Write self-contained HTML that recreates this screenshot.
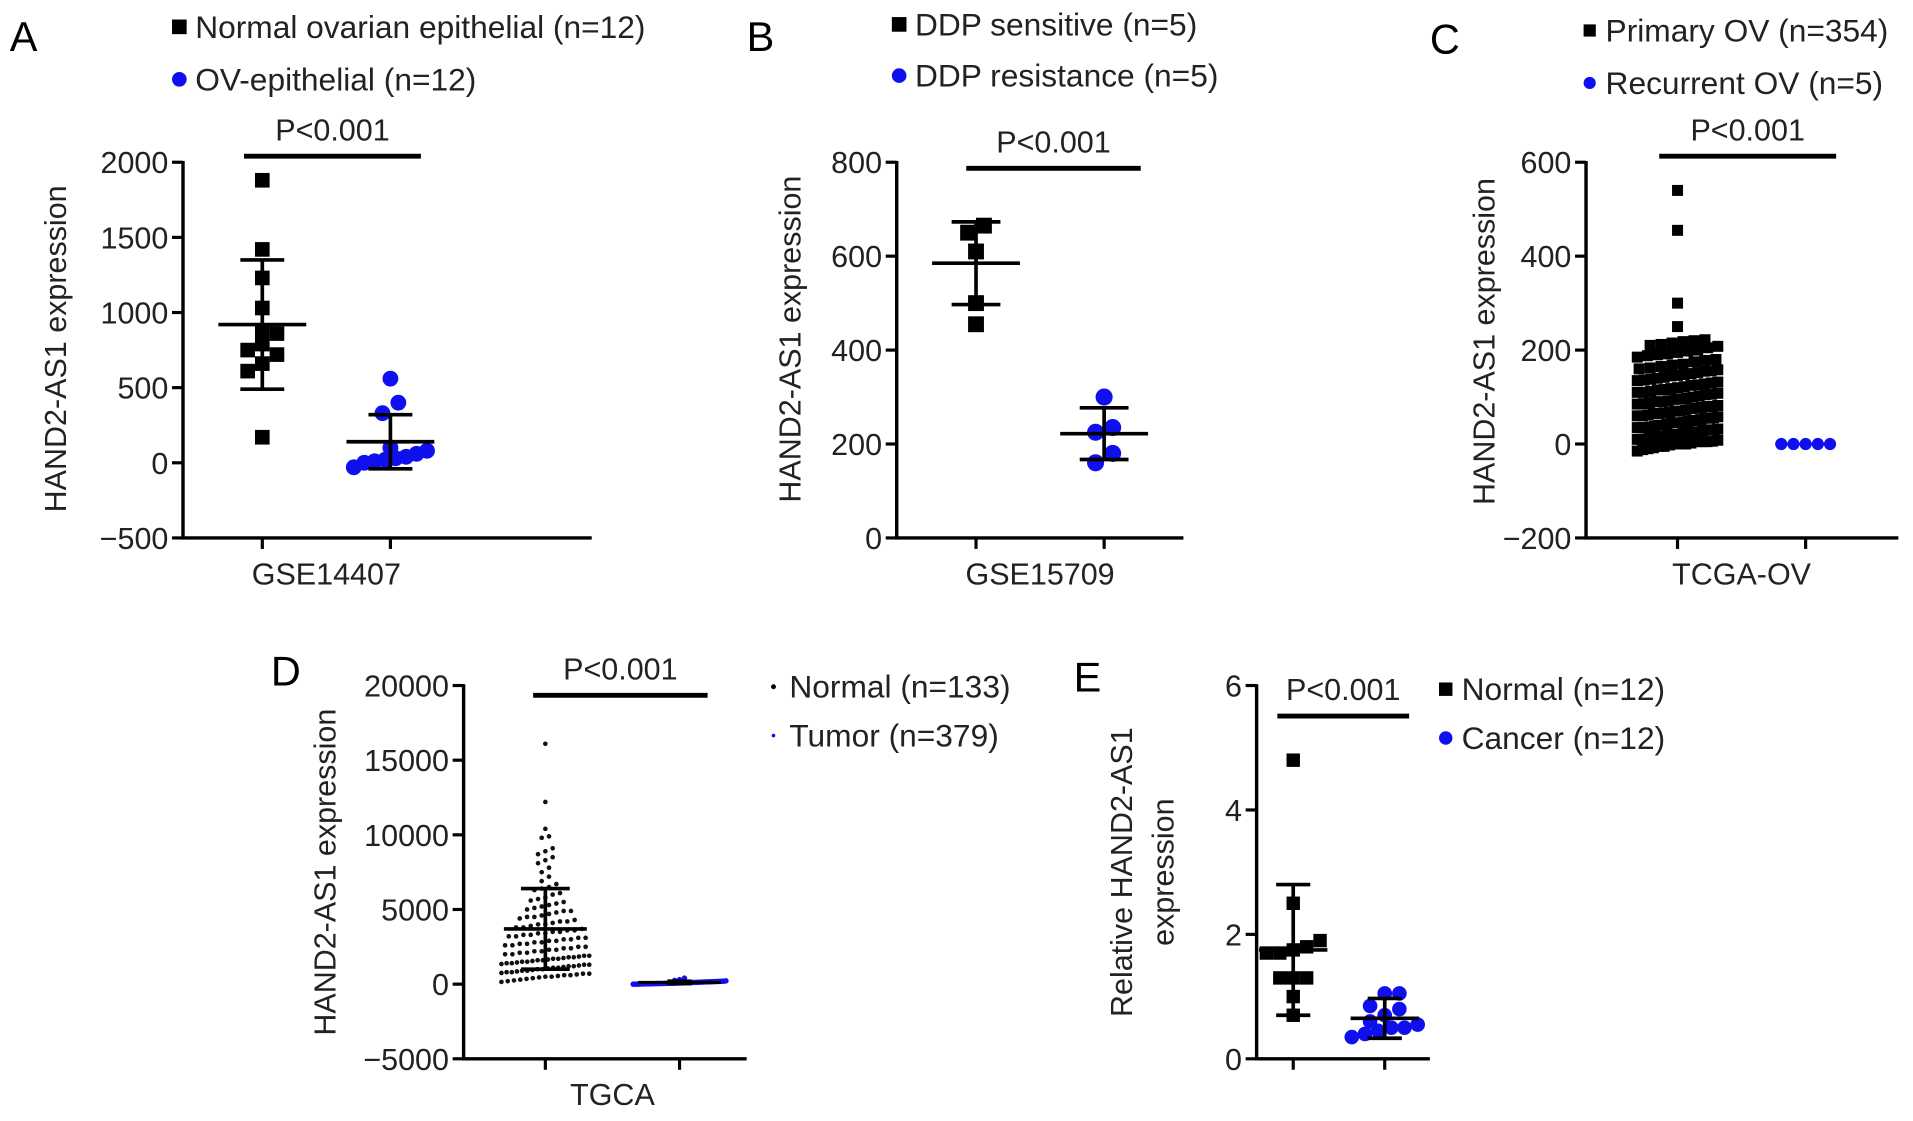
<!DOCTYPE html>
<html><head><meta charset="utf-8"><style>
html,body{margin:0;padding:0;background:#fff;}
svg{display:block;font-family:"Liberation Sans",Arial,sans-serif;}
</style></head><body>
<svg id="fig" width="1913" height="1121" viewBox="0 0 1568 919" preserveAspectRatio="none" xmlns="http://www.w3.org/2000/svg"></svg>
<script>
// ---- Data arrays ----
const aNormal = [1880,1420,1230,1030,880,860,790,750,720,660,610,170];
const aOV = [560,400,330,100,80,60,40,30,20,10,0,-30];
const aMean = [920,140];
const aSD = [430,180];
const aTicks = [2000,1500,1000,500,0,-500];

const bSens = [665,650,610,500,455];
const bRes = [300,235,225,180,160];
const bMean = [585,222];
const bSD = [88,55];
const bTicks = [800,600,400,200,0];

const cPrimary = [540,455,300,250,222,220,218,215,212,210,208,205,200,198,195,192,190,188,185,180,178,175,170,168,165,162,160,158,156,155,152,150,148,146,145,142,140,138,136,135,132,130,128,126,125,122,120,118,116,115,112,110,108,106,105,102,100,98,96,95,92,90,88,86,85,82,80,78,76,75,72,70,68,66,65,62,60,58,56,55,52,50,48,46,45,42,40,38,36,35,32,30,28,26,25,22,20,18,16,15,12,10,8,6,5,2,0,-2,-5,-8,-10,-15,60,55,50,45,40,35,30,25,20,15,10,5,0,70,65,45,35,25,15,5,-5,-12,110,90,80,30,20,10,0];
const cRecurrent = [0,0,0,0,0];
const cMean = [90,0];
const cSD = [80,0];
const cTicks = [600,400,200,0,-200];

const dNormal = [16100,12200,10400,9900,9800,9100,8900,8700,8500,8300,8100,7800,7500,7200,6900,6700,6500,6400,6300,6100,6000,5800,5700,5600,5500,5400,5300,5200,5100,5000,4900,4900,4800,4700,4600,4500,4500,4400,4300,4200,4200,4100,4000,4000,3900,3800,3800,3700,3600,3600,3500,3500,3400,3400,3300,3300,3200,3200,3100,3100,3000,3000,2900,2900,2800,2800,2700,2700,2600,2600,2500,2500,2400,2400,2300,2300,2200,2200,2100,2100,2000,2000,1900,1900,1850,1800,1800,1750,1700,1700,1650,1600,1600,1550,1500,1500,1450,1400,1400,1350,1300,1300,1250,1200,1200,1150,1100,1100,1050,1000,1000,950,900,900,850,800,800,750,700,700,650,600,600,550,500,500,450,400,350,300,250,200,150];
const dTumor = [400,300,250,220,200,190,180,170,160,150,150,140,130,120,110,100,100,90,80,80,70,60,60,50,50,40,40,30,30,20,20,10,10,0,0,0,5,15,25,35,45,55,65,75,85,95,105,115,125,135,145,155,165,175,185,195,60,40,20,0];
const dMean = [3700,120];
const dSD = [2700,100];
const dTicks = [20000,15000,10000,5000,0,-5000];

const eNormal = [4.8,2.5,1.9,1.8,1.75,1.7,1.7,1.3,1.3,1.3,1.0,0.7];
const eCancer = [1.05,1.05,0.85,0.8,0.7,0.6,0.55,0.5,0.5,0.45,0.4,0.35];
const eMean = [1.75,0.65];
const eSD = [1.05,0.32];
const eTicks = [6,4,2,0];

// ---- helpers ----
const NS = "http://www.w3.org/2000/svg";
const svg = document.getElementById('fig');
function mk(tag, attrs, parent, text){
  const e = document.createElementNS(NS, tag);
  for (const k in attrs) e.setAttribute(k, attrs[k]);
  if (text !== undefined) e.textContent = text;
  (parent||svg).appendChild(e);
  return e;
}
function swarm(vals, cx, sc, binH, spacing, maxHalf){
  const pts = vals.map(v=>({v, y:sc(v)})).sort((a,b)=>b.y-a.y);
  const out=[]; let bin=[]; let by=null;
  function flush(){
    const n=bin.length; if(!n) return;
    const sp = n>1 ? Math.min(spacing, 2*maxHalf/(n-1)) : 0;
    bin.forEach((p,i)=>out.push({x:cx+(i-(n-1)/2)*sp, y:p.y, v:p.v}));
    bin=[];
  }
  pts.forEach(p=>{ if(by===null || Math.abs(p.y-by)>=binH){ flush(); by=p.y; } bin.push(p); });
  flush();
  return out;
}

function panel(cfg){
  const g = mk('g',{});
  
  
  const [vmax,vmin] = [cfg.ticks[0], cfg.ticks[cfg.ticks.length-1]];
  const sc = v => cfg.yTop + (vmax - v)/(vmax - vmin)*(cfg.yBot-cfg.yTop);
  const L = mk('text',{x:cfg.letter[0],y:cfg.letter[1],'font-size':34,fill:'#000'},g,cfg.id);
  
  
  const ax = mk('path',{d:`M${cfg.ax} ${cfg.yTop-1}V${cfg.yBot}H${cfg.xEnd}`,stroke:'#000','stroke-width':2.8,fill:'none'},g);
  
  
  cfg.ticks.forEach(t=>{
    const y=sc(t);
    mk('line',{x1:cfg.ax-9,x2:cfg.ax,y1:y,y2:y,stroke:'#000','stroke-width':2.6},g);
    const tl = mk('text',{x:cfg.ax-12,y:y+9,'font-size':25,'text-anchor':'end',fill:'#222'},g,(t<0?'\u2212':'')+Math.abs(t));
    
    
  });
  cfg.cats.forEach(cx=> mk('line',{x1:cx,x2:cx,y1:cfg.yBot,y2:cfg.yBot+9,stroke:'#000','stroke-width':2.6},g));
  if(cfg.xlabel){
    const xl = mk('text',{x:(cfg.cats[0]+cfg.cats[1])/2,y:cfg.yBot+38,'font-size':25,'text-anchor':'middle',fill:'#222'},g,cfg.xlabel);
    
    
  }
  const tg = mk('text',{transform:`translate(${cfg.yt[0]},${cfg.yt[1]}) rotate(-90)`,'font-size':25,'text-anchor':'middle',fill:'#222'},g);
  
  
  cfg.ytitle.forEach((s,i)=> mk('tspan',{x:0,dy:i?34:0},tg,s));
  const sb = mk('line',{x1:cfg.sig[0],x2:cfg.sig[1],y1:cfg.sig[2],y2:cfg.sig[2],stroke:'#000','stroke-width':4},g);
  
  
  const pt = mk('text',{x:(cfg.sig[0]+cfg.sig[1])/2,y:cfg.sig[2]-13,'font-size':25,'text-anchor':'middle',fill:'#222'},g,'P<0.001');
  
  
  cfg.series.forEach((s,si)=>{
    const cx = cfg.cats[si];
    const sg = mk('g',{},g);
    
    
    const pts = swarm(s.vals, cx, sc, s.bin||s.size, s.sp||s.size, s.half);
    if(s.connect){
      mk('line',{x1:pts[0].x,x2:pts[pts.length-1].x,y1:pts[0].y,y2:pts[0].y,stroke:s.color,'stroke-width':2},sg);
    }
    pts.forEach(p=>{
      let m;
      if(s.shape==='sq') m = mk('rect',{x:p.x-s.size/2,y:p.y-s.size/2,width:s.size,height:s.size,fill:s.color},sg);
      else m = mk('circle',{cx:p.x,cy:p.y,r:s.size/2,fill:s.color},sg);
      
      
    });
    const mean = cfg.mean[si], sd = cfg.sd[si];
    if(s.err!==false){
      const eg = mk('g',{stroke:'#000','stroke-width':s.ew||3},sg);
      
      
      mk('line',{x1:cx-s.mw,x2:cx+s.mw,y1:sc(mean),y2:sc(mean)},eg);
      mk('line',{x1:cx,x2:cx,y1:sc(mean+sd),y2:sc(mean-sd)},eg);
      mk('line',{x1:cx-s.cw,x2:cx+s.cw,y1:sc(mean+sd),y2:sc(mean+sd)},eg);
      mk('line',{x1:cx-s.cw,x2:cx+s.cw,y1:sc(mean-sd),y2:sc(mean-sd)},eg);
    }
  });
  cfg.legend.forEach((l,i)=>{
    const lg = mk('g',{},g);
    
    
    const [x,y]=[cfg.leg[0], cfg.leg[1]+i*cfg.leg[2]];
    if(l.shape==='sq') mk('rect',{x:x-l.s/2,y:y-l.s/2,width:l.s,height:l.s,fill:l.c},lg);
    else mk('circle',{cx:x,cy:y,r:l.s/2,fill:l.c},lg);
    mk('text',{x:x+13,y:y+9,'font-size':26,fill:'#222'},lg,l.t);
  });
}

const YT = ['HAND2-AS1 expression'];
panel({id:'A',letter:[8,42],ax:150,yTop:133,yBot:441,xEnd:485,ticks:aTicks,cats:[215,320],xlabel:'GSE14407',
  yt:[54,286],ytitle:YT,sig:[200,345,128],mean:aMean,sd:aSD,
  series:[{key:'normal',vals:aNormal,shape:'sq',size:12,bin:14,half:30,color:'#000',mw:36,cw:18},
          {key:'ov',vals:aOV,shape:'c',size:13,bin:14,half:30,color:'#1010ee',mw:36,cw:18}],
  leg:[147,22,43],legend:[{shape:'sq',s:12,c:'#000',t:'Normal ovarian epithelial (n=12)'},{shape:'c',s:12,c:'#1010ee',t:'OV-epithelial (n=12)'}]});
panel({id:'B',letter:[612,42],ax:735,yTop:133,yBot:441,xEnd:970,ticks:bTicks,cats:[800,905],xlabel:'GSE15709',
  yt:[656,278],ytitle:YT,sig:[792,935,138],mean:bMean,sd:bSD,
  series:[{key:'sensitive',vals:bSens,shape:'sq',size:13,half:24,color:'#000',mw:36,cw:20},
          {key:'resistance',vals:bRes,shape:'c',size:14,half:24,color:'#1010ee',mw:36,cw:20}],
  leg:[737,20,42],legend:[{shape:'sq',s:12,c:'#000',t:'DDP sensitive (n=5)'},{shape:'c',s:12,c:'#1010ee',t:'DDP resistance (n=5)'}]});
panel({id:'C',letter:[1172,44],ax:1300,yTop:133,yBot:441,xEnd:1556,ticks:cTicks,cats:[1375,1480],xlabel:'TCGA-OV',
  yt:[1225,280],ytitle:YT,sig:[1360,1505,128],mean:cMean,sd:cSD,
  series:[{key:'primary',vals:cPrimary,shape:'sq',size:9,half:33,color:'#000',mw:30,cw:18,err:false},
          {key:'recurrent',vals:cRecurrent,shape:'c',size:10,half:30,color:'#1010ee',mw:0,cw:0,err:false,connect:true}],
  leg:[1303,25,43],legend:[{shape:'sq',s:10,c:'#000',t:'Primary OV (n=354)'},{shape:'c',s:10,c:'#1010ee',t:'Recurrent OV (n=5)'}]});
panel({id:'D',letter:[222,562],ax:380,yTop:562,yBot:868,xEnd:612,ticks:dTicks,cats:[447,557],xlabel:'TGCA',
  yt:[275,715],ytitle:YT,sig:[437,580,570],mean:dMean,sd:dSD,
  series:[{key:'normal',vals:dNormal,shape:'c',size:3.8,bin:7,sp:6,half:36,color:'#111',mw:34,cw:20},
          {key:'tumor',vals:dTumor,shape:'c',size:4.5,bin:3,sp:4,half:38,color:'#1010ee',mw:34,cw:10,ew:2.5}],
  leg:[634,563,40],legend:[{shape:'c',s:4,c:'#000',t:'Normal (n=133)'},{shape:'c',s:3,c:'#1010ee',t:'Tumor (n=379)'}]});
panel({id:'E',letter:[880,567],ax:1030,yTop:562,yBot:868,xEnd:1172,ticks:eTicks,cats:[1060,1135],xlabel:'',
  yt:[928,715],ytitle:['Relative HAND2-AS1','expression'],sig:[1047,1155,587],mean:eMean,sd:eSD,
  series:[{key:'normal',vals:eNormal,shape:'sq',size:11,bin:12,half:27,color:'#000',mw:28,cw:14},
          {key:'cancer',vals:eCancer,shape:'c',size:12,bin:12,half:27,color:'#1010ee',mw:28,cw:14}],
  leg:[1185,565,40],legend:[{shape:'sq',s:11,c:'#000',t:'Normal (n=12)'},{shape:'c',s:11,c:'#1010ee',t:'Cancer (n=12)'}]});
</script>
</body></html>
